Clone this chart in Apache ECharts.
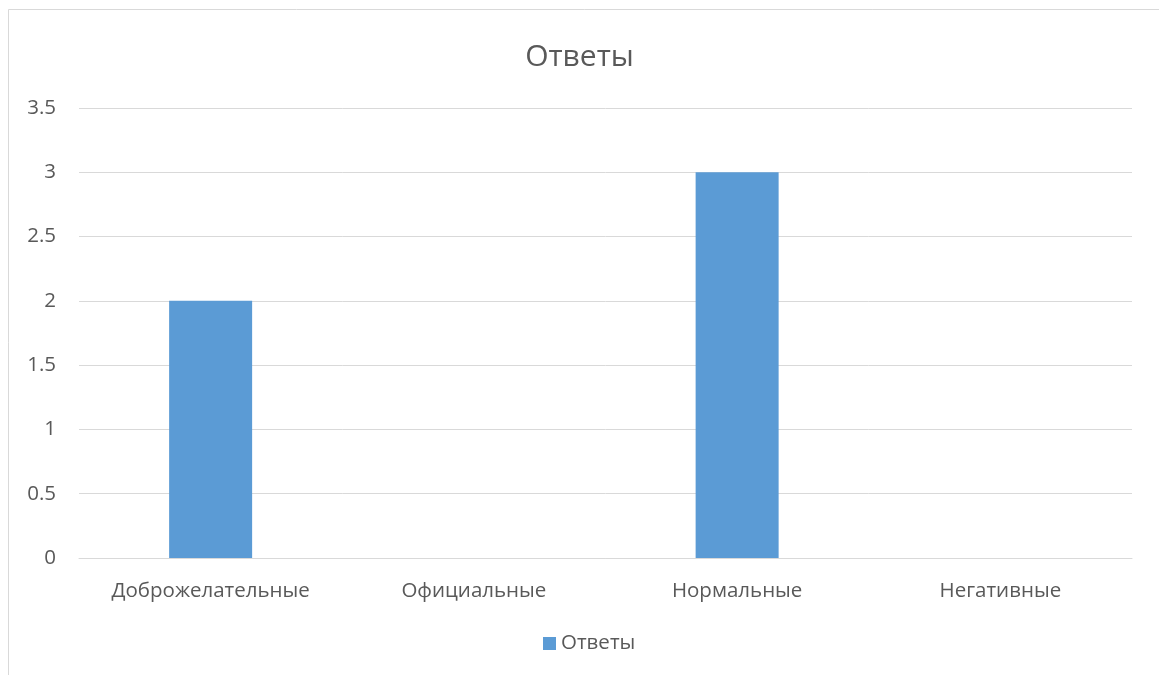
<!DOCTYPE html>
<html><head><meta charset="utf-8">
<script src="https://cdn.jsdelivr.net/npm/echarts@6/dist/echarts.min.js"></script>
<style>html,body{margin:0;padding:0;background:#fff}#c{width:1159px;height:675px}</style>
</head><body><div id="c"></div>
<script>
const categories = ['Доброжелательные', 'Официальные', 'Нормальные', 'Негативные'];
const values = [2, 0, 3, 0];
const seriesName = 'Ответы';
const titleText = 'Ответы';

const chart = echarts.init(document.getElementById('c'));
const font = '"Open Sans", "Noto Sans", sans-serif';
chart.setOption({
  animation: false,
  backgroundColor: '#fff',
  textStyle: { fontFamily: font },
  graphic: [{
    type: 'rect', shape: { x: 8.5, y: 9.5, width: 1300, height: 800 },
    style: { fill: 'none', stroke: '#d9d9d9', lineWidth: 1 }, silent: true
  }],
  title: {
    text: titleText, left: 'center', top: 37,
    textStyle: { fontSize: 30, fontWeight: 'normal', color: '#595959', fontFamily: font }
  },
  legend: {
    bottom: 16, left: 538, itemWidth: 13, itemHeight: 13, icon: 'rect', itemGap: 8,
    textStyle: { fontSize: 20.5, color: '#595959', fontFamily: font },
    data: [seriesName]
  },
  grid: { left: 79, right: 27, top: 108, bottom: 117, containLabel: false },
  xAxis: {
    type: 'category', data: categories,
    axisLine: { lineStyle: { color: '#d9d9d9' } },
    axisTick: { show: false },
    axisLabel: { fontSize: 20.5, color: '#595959', margin: 23, fontFamily: font }
  },
  yAxis: {
    type: 'value', min: 0, max: 3.5, interval: 0.5,
    axisLine: { show: false }, axisTick: { show: false },
    splitLine: { lineStyle: { color: '#d9d9d9', width: 1 } },
    axisLabel: { fontSize: 20.5, color: '#595959', margin: 23, fontFamily: font }
  },
  series: [{
    name: seriesName, type: 'bar', data: values, barWidth: 83,
    itemStyle: { color: '#5b9bd5' }
  }]
});
</script></body></html>
